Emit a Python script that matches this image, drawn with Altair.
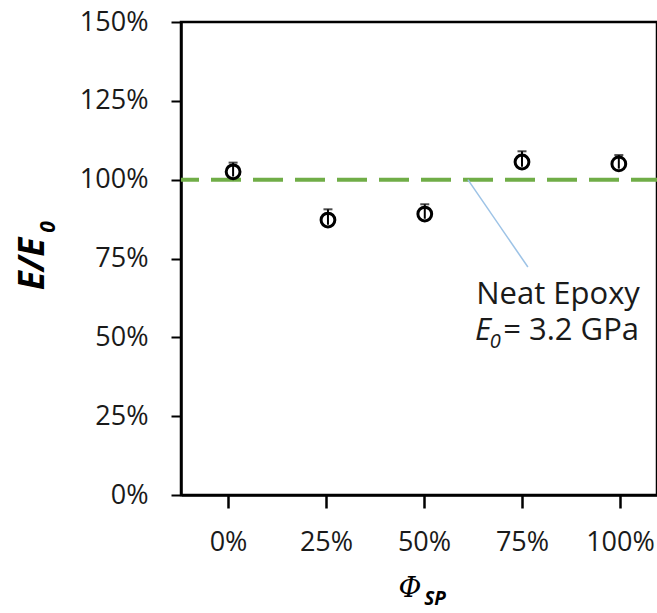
import altair as alt
import pandas as pd

# ---- data ----
phi_sp = [1.3, 25.5, 50.2, 75.0, 99.7]            # % spherical particles
e_ratio = [102.5, 87.2, 89.1, 105.6, 105.0]       # E/E0 in %
e_err_up = [2.9, 3.4, 3.1, 3.4, 2.8]              # upper error bar length in %
e_err_lo = [1.5, 1.5, 1.5, 1.5, 1.5]              # lower part (hidden inside marker)
x_ticks = [0, 25, 50, 75, 100]
y_ticks = [0, 25, 50, 75, 100, 125, 150]
neat_level = [100]
leader_start = (61.2, 100.0)
leader_end = (76.5, 72.3)

W, H = 476, 473
FONT = "Open Sans"

df = pd.DataFrame({"x": phi_sp, "y": e_ratio, "up": e_err_up, "dn": e_err_lo})
df["lo"] = df["y"] - df["dn"]
df["hi"] = df["y"] + df["up"]

xs = alt.Scale(domain=[-11.99, 109.44], nice=False, zero=False)
ys = alt.Scale(domain=[0, 150], nice=False, zero=False)

x_axis = alt.Axis(values=x_ticks, labelExpr="datum.value + '%'", title=None, grid=False,
                  domainColor="black", domainWidth=2.5, tickColor="black", tickWidth=2.5,
                  tickSize=13, labelFont=FONT, labelFontSize=27, labelColor="#1a1a1a",
                  labelPadding=21)
y_axis = alt.Axis(values=y_ticks, labelExpr="datum.value + '%'", title=None, grid=False,
                  domainColor="black", domainWidth=2.5, tickColor="black", tickWidth=2,
                  tickSize=10, labelFont=FONT, labelFontSize=27, labelColor="#1a1a1a",
                  labelPadding=23)

base = alt.Chart(df)

points = base.mark_point(shape="circle", filled=False, color="black", strokeWidth=3,
                         size=190, opacity=1).encode(
    x=alt.X("x:Q", scale=xs, axis=x_axis),
    y=alt.Y("y:Q", scale=ys, axis=y_axis),
)

err_line = base.mark_rule(color="black", strokeWidth=2).encode(
    x=alt.X("x:Q", scale=xs), y=alt.Y("lo:Q", scale=ys), y2="hi:Q")
cap_hi = base.mark_tick(color="black", thickness=2, size=9, orient="horizontal").encode(
    x=alt.X("x:Q", scale=xs), y=alt.Y("hi:Q", scale=ys))

neat = alt.Chart(pd.DataFrame({"y": neat_level})).mark_rule(
    color="#70AD47", strokeWidth=4, strokeDash=[30, 12], strokeDashOffset=4).encode(
    y=alt.Y("y:Q", scale=ys))

leader = alt.Chart(pd.DataFrame({"x": [leader_start[0]], "y": [leader_start[1]],
                                 "x2": [leader_end[0]], "y2": [leader_end[1]]})).mark_rule(
    color="#9DC3E6", strokeWidth=1.5).encode(
    x=alt.X("x:Q", scale=xs), y=alt.Y("y:Q", scale=ys), x2="x2:Q", y2="y2:Q")

ann = pd.DataFrame({
    "x": [84.2, 63.0, 66.8, 70.2],
    "y": [63.4, 51.9, 48.4, 51.9],
    "t": ["Neat Epoxy", "E", "0", "= 3.2 GPa"],
    "k": ["a", "b", "c", "d"],
})
ann_main = alt.Chart(ann[ann.k == "a"]).mark_text(
    font=FONT, fontSize=31, color="#1a1a1a", align="center", baseline="middle").encode(
    x=alt.X("x:Q", scale=xs), y=alt.Y("y:Q", scale=ys), text="t:N")
ann_e = alt.Chart(ann[ann.k == "b"]).mark_text(
    font=FONT, fontSize=31, fontStyle="italic", color="#1a1a1a", align="left",
    baseline="middle").encode(
    x=alt.X("x:Q", scale=xs), y=alt.Y("y:Q", scale=ys), text="t:N")
ann_sub = alt.Chart(ann[ann.k == "c"]).mark_text(
    font=FONT, fontSize=20, fontStyle="italic", color="#1a1a1a", align="left",
    baseline="middle").encode(
    x=alt.X("x:Q", scale=xs), y=alt.Y("y:Q", scale=ys), text="t:N")
ann_val = alt.Chart(ann[ann.k == "d"]).mark_text(
    font=FONT, fontSize=31, color="#1a1a1a", align="left", baseline="middle").encode(
    x=alt.X("x:Q", scale=xs), y=alt.Y("y:Q", scale=ys), text="t:N")

# axis titles with subscripts (placed outside the plot area)
titles = pd.DataFrame({"t": ["E/E", "0", "\u03a6", "SP"]})
y_title = alt.Chart(titles[titles.t == "E/E"]).mark_text(
    font=FONT, fontSize=35, fontWeight="bold", fontStyle="italic", angle=270,
    align="center", baseline="middle", color="black").encode(
    text="t:N", x=alt.value(-148), y=alt.value(242))
y_title_sub = alt.Chart(titles[titles.t == "0"]).mark_text(
    font=FONT, fontSize=21, fontStyle="italic", fontWeight="bold", angle=270,
    align="center", baseline="middle", color="black").encode(
    text="t:N", x=alt.value(-132), y=alt.value(205))
x_title = alt.Chart(titles[titles.t == "\u03a6"]).mark_text(
    font="DejaVu Serif", fontSize=28, fontStyle="italic", align="center",
    baseline="middle", color="black").encode(
    text="t:N", x=alt.value(229), y=alt.value(567))
x_title_sub = alt.Chart(titles[titles.t == "SP"]).mark_text(
    font=FONT, fontSize=19, fontStyle="italic", fontWeight="bold", align="center",
    baseline="middle", color="black").encode(
    text="t:N", x=alt.value(254), y=alt.value(577))

chart = alt.layer(
    neat, leader, err_line, cap_hi, points,
    ann_main, ann_e, ann_sub, ann_val,
    y_title, y_title_sub, x_title, x_title_sub,
).properties(
    width=W, height=H,
    autosize=alt.AutoSizeParams(type="none"),
    padding={"left": 181, "top": 22, "right": 0, "bottom": 118},
    background="white",
).configure_view(stroke="black", strokeWidth=2.5)

chart.save("out.html", embed_options={"renderer": "svg", "actions": False})
